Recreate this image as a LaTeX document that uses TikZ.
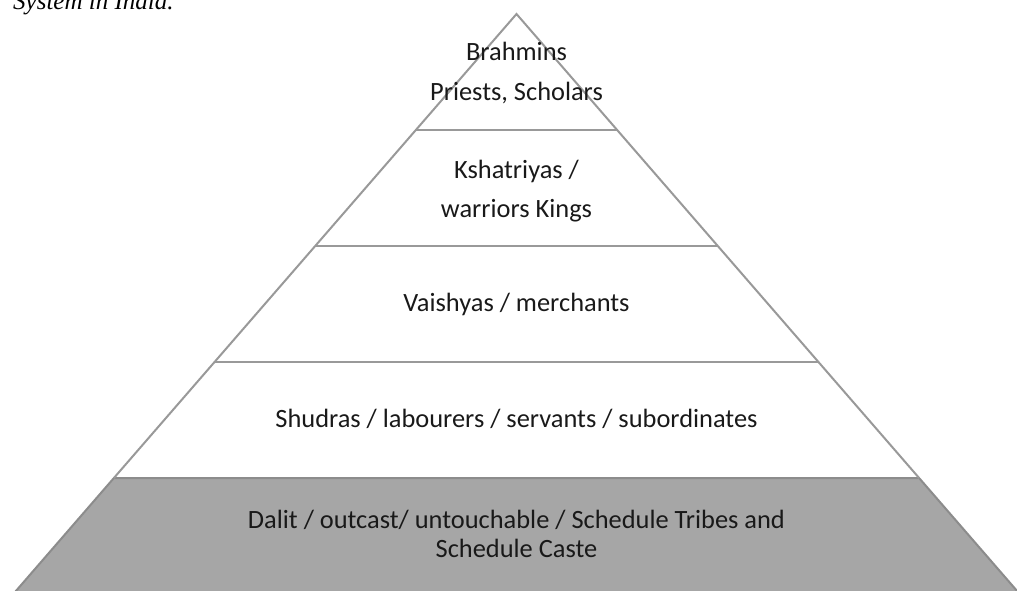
\documentclass[tikz,border=0pt]{standalone}
\usepackage{fontspec}
\setmainfont{Liberation Serif}
\newfontfamily\bandfont{Carlito}
\begin{document}
\begin{tikzpicture}[x=0.5pt,y=-0.5pt,
  edge/.style={draw=black!40,line width=1pt,line join=miter},
  base/.style={edge,fill=black!35,draw=black!45},
  label/.style={font=\bandfont\fontsize{13.2}{15}\selectfont,anchor=base,inner sep=0pt,text=black!90}]
\useasboundingbox (0,0) rectangle (1017,590);
% pyramid corners and band boundaries
\coordinate (apex) at (516.5,14);
\coordinate (l1) at (415.9,130); \coordinate (r1) at (617.1,130);
\coordinate (l2) at (315.2,246); \coordinate (r2) at (717.8,246);
\coordinate (l3) at (214.6,362); \coordinate (r3) at (818.4,362);
\coordinate (l4) at (113.9,478); \coordinate (r4) at (919.1,478);
\coordinate (l5) at (13.3,594);  \coordinate (r5) at (1019.7,594);
% lowest band, shaded
\path[base] (l4) -- (r4) -- (r5) -- (l5) -- cycle;
% outline and dividing lines
\draw[edge] (l4) -- (apex) -- (r4);
\draw[edge] (l1) -- (r1);
\draw[edge] (l2) -- (r2);
\draw[edge] (l3) -- (r3);
% band labels
\node[label] (b1a) at (516.5,60) {Brahmins};
\node[label] (b1b) at (516.5,100) {Priests, Scholars};
\node[label] (b2a) at (516.5,178) {Kshatriyas /};
\node[label] (b2b) at (516.5,217) {warriors Kings};
\node[label] (b3) at (516.5,311) {Vaishyas / merchants};
\node[label] (b4) at (516.5,427) {Shudras / labourers / servants / subordinates};
\node[label] (b5a) at (516.5,528) {Dalit / outcast/ untouchable / Schedule Tribes and};
\node[label] (b5b) at (516.5,557) {Schedule Caste};
% caption fragment at the top
\node[anchor=base east,inner sep=0pt,font=\itshape\fontsize{12.5}{14}\selectfont] (cap) at (174,9) {System in India.};
\end{tikzpicture}
\end{document}
